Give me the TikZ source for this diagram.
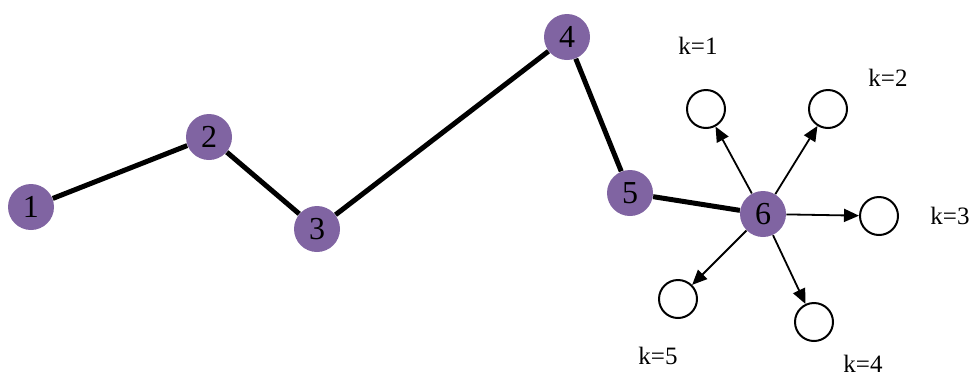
\documentclass[tikz,border=0pt]{standalone}
\usepackage{fontspec}
\setmainfont{Liberation Serif}
\usepackage{tikz}
\usetikzlibrary{arrows.meta}
\definecolor{nodepurple}{HTML}{8064A2}
\tikzset{
  pathnode/.style={circle,fill=nodepurple,draw=none,minimum size=23pt,inner sep=0pt,
    font=\fontsize{16}{18}\selectfont,text=black},
  candnode/.style={circle,draw=black,line width=1pt,fill=white,minimum size=19pt,inner sep=0pt},
  pathedge/.style={line width=2.5pt,color=black},
  candarr/.style={-{Triangle[length=7.5pt,width=6.5pt]},line width=0.9pt,color=black},
  klabel/.style={font=\fontsize{12.5}{14}\selectfont,text=black,inner sep=0pt},
}
\begin{document}
\begin{tikzpicture}[x=0.5pt,y=-0.5pt]
  \useasboundingbox (0,0) rectangle (974,376);
  % path through the nodes
  \node[pathnode] (n1) at (31,207) {1};
  \node[pathnode] (n2) at (209,137) {2};
  \node[pathnode] (n3) at (317,229) {3};
  \node[pathnode] (n4) at (567,37) {4};
  \node[pathnode] (n5) at (630,193) {5};
  \node[pathnode] (n6) at (763,214) {6};
  \draw[pathedge] (n1) -- (n2) -- (n3) -- (n4) -- (n5) -- (n6);
  % candidate next nodes
  \node[candnode] (k1) at (706,109) {};
  \node[candnode] (k2) at (828,109) {};
  \node[candnode] (k3) at (879,216) {};
  \node[candnode] (k4) at (814,322) {};
  \node[candnode] (k5) at (678,299) {};
  \foreach \k in {1,...,5}
    \draw[candarr] (n6) -- (k\k);
  \node[klabel] (l1) at (698,46) {k=1};
  \node[klabel] (l2) at (888,78) {k=2};
  \node[klabel] (l3) at (950,216) {k=3};
  \node[klabel] (l4) at (863,364) {k=4};
  \node[klabel] (l5) at (658,356) {k=5};
\end{tikzpicture}
\end{document}
